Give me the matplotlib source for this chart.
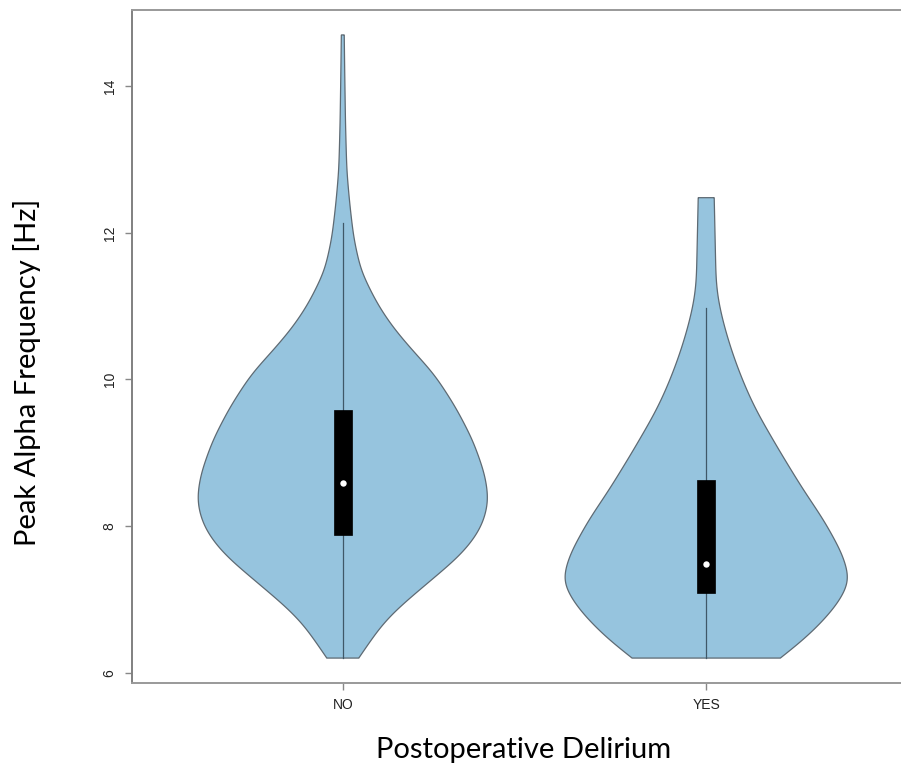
import numpy as np
import matplotlib
matplotlib.use("Agg")
import matplotlib.pyplot as plt

# ---- data ----
groups = ["NO", "YES"]
positions = [1, 2]

# violin outline: value (Hz) and half-width (x-axis units)
no_values = [6.20, 6.44, 6.67, 6.89, 7.12, 7.35, 7.57, 7.80, 8.03, 8.35, 8.71, 9.17,
             9.62, 10.08, 10.39, 10.71, 11.03, 11.48, 11.93, 12.40, 12.85, 13.50, 14.30, 14.70]
no_halfwidth = [0.044, 0.077, 0.110, 0.154, 0.209, 0.264, 0.317, 0.358, 0.386, 0.402, 0.391, 0.358,
                0.311, 0.251, 0.193, 0.138, 0.095, 0.050, 0.030, 0.019, 0.011, 0.0074, 0.005, 0.004]

yes_values = [6.20, 6.26, 6.48, 6.71, 6.94, 7.25, 7.62, 8.07, 8.52, 8.99, 9.33, 9.53,
              9.75, 9.98, 10.21, 10.44, 10.67, 10.90, 11.12, 11.35, 12.03, 12.48]
yes_halfwidth = [0.204, 0.220, 0.275, 0.322, 0.362, 0.397, 0.375, 0.325, 0.264, 0.206, 0.166, 0.143,
                 0.121, 0.101, 0.083, 0.067, 0.053, 0.041, 0.032, 0.027, 0.024, 0.022]

# box summary: lower whisker, Q1, median, Q3, upper whisker
lower_whisker = [6.20, 6.20]
q1 = [7.88, 7.09]
median = [8.59, 7.49]
q3 = [9.59, 8.63]
upper_whisker = [12.14, 10.97]

yticks = [6, 8, 10, 12, 14]
xlabel = "Postoperative Delirium"
ylabel = "Peak Alpha Frequency [Hz]"


def smooth_profile(v, h, step=0.005, sigma=0.14):
    """Interpolate the read profile onto a fine grid and smooth out reading jitter
    (odd reflection at the ends keeps the end widths unchanged)."""
    yv = np.arange(v[0], v[-1] + step / 2, step)
    hv = np.interp(yv, v, h)
    k = int(3 * sigma / step)
    kern = np.exp(-0.5 * (np.arange(-k, k + 1) * step / sigma) ** 2)
    kern /= kern.sum()
    lo = 2 * hv[0] - hv[k:0:-1]
    hi = 2 * hv[-1] - hv[-2:-k - 2:-1]
    pad = np.concatenate([lo, hv, hi])
    hs = np.convolve(pad, kern, mode="valid")
    return yv, np.maximum(hs, 0.003)


fig = plt.figure(figsize=(9.01, 7.65), dpi=100)
ax = fig.add_axes([132 / 901, 82 / 765, 785 / 901, 673 / 765])

fill_col = "#96C4DE"
edge_col = "#5E6A73"

profiles = [(no_values, no_halfwidth), (yes_values, yes_halfwidth)]
for i, (vals, hw) in enumerate(profiles):
    c = positions[i]
    yv, hv = smooth_profile(vals, hw)
    xs = np.concatenate([c - hv, (c + hv)[::-1]])
    ys = np.concatenate([yv, yv[::-1]])
    ax.fill(xs, ys, facecolor=fill_col, edgecolor=edge_col, linewidth=0.9, zorder=2)
    # whisker line
    ax.plot([c, c], [lower_whisker[i], upper_whisker[i]], color="#3F5868", linewidth=0.9, zorder=3)
    # box
    ax.add_patch(plt.Rectangle((c - 0.025, q1[i]), 0.05, q3[i] - q1[i],
                               facecolor="black", edgecolor="black", linewidth=0.5, zorder=4))
    ax.plot(c, median[i], marker="o", markersize=4.6, color="white", markeredgewidth=0, zorder=5)

ax.set_xlim(0.42, 2.58)
ax.set_ylim(5.86, 15.04)

ax.set_xticks(positions)
ax.set_xticklabels(groups)
ax.set_yticks(yticks)
ax.set_yticklabels([str(t) for t in yticks], rotation=90, va="center")

for lab in ax.get_xticklabels() + ax.get_yticklabels():
    lab.set_fontfamily("Liberation Sans")
    lab.set_fontsize(10)
    lab.set_color("#222222")

ax.tick_params(axis="both", length=5, width=1.0, color="#888888", pad=6)
for sp in ax.spines.values():
    sp.set_color("#999999")
    sp.set_linewidth(1.4)
ax.spines["left"].set_color("#808080")
ax.spines["right"].set_visible(False)

fig.text(524 / 901, 1 - 750 / 765, xlabel, ha="center", va="center",
         fontsize=21, family="Lato", color="black")
fig.text(27 / 901, 1 - 372 / 765, ylabel, ha="center", va="center", rotation=90,
         fontsize=21, family="Lato", color="black")

fig.savefig("out.png", dpi=100)
